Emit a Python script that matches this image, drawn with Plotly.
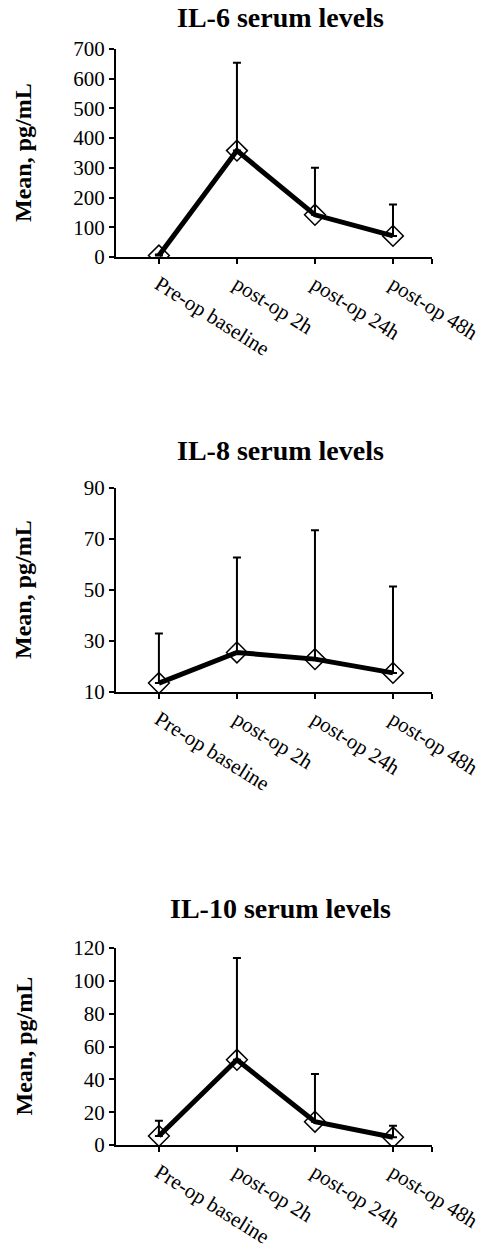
import plotly.graph_objects as go

# sampling times on the x axis
timepoints = ["Pre-op baseline", "post-op 2h", "post-op 24h", "post-op 48h"]

# mean and SD (upper bar only), pg/mL
il6_mean = [5, 358, 142, 71]
il6_sd = [3, 296, 158, 106]
il8_mean = [13.5, 25.5, 22.9, 17.5]
il8_sd = [19.4, 37.2, 50.5, 33.9]
il10_mean = [5.5, 51.9, 14.2, 4.7]
il10_sd = [9.3, 62.0, 29.1, 7.1]

il6_ticks = [0, 100, 200, 300, 400, 500, 600, 700]
il8_ticks = [10, 30, 50, 70, 90]
il10_ticks = [0, 20, 40, 60, 80, 100, 120]

# page body has an 8px margin, so the figure is shrunk by that much
OFF = 8
W, H = 484 - OFF, 1248 - OFF
FONT = "Liberation Serif"


def px_x(px):
    return (px - OFF) / W


def px_y(px):
    return 1 - (px - OFF) / H


# (title, mean, sd, ticks, plot top px, plot bottom px, title centre px)
panels = [
    ("IL-6 serum levels", il6_mean, il6_sd, il6_ticks, 49, 257, 18),
    ("IL-8 serum levels", il8_mean, il8_sd, il8_ticks, 488, 692, 451),
    ("IL-10 serum levels", il10_mean, il10_sd, il10_ticks, 948, 1145, 908),
]
x_left, x_right = 116, 432

fig = go.Figure()
xs = list(range(len(timepoints)))

for i, (title, mean, sd, ticks, top, bottom, title_y) in enumerate(panels):
    n = '' if i == 0 else str(i + 1)
    fig.add_trace(go.Scatter(
        x=xs, y=mean,
        mode='lines+markers',
        line=dict(color='black', width=5),
        marker=dict(symbol='diamond-open', size=16, color='black', line=dict(width=1.5)),
        error_y=dict(type='data', symmetric=False, array=sd, arrayminus=[0] * len(sd),
                     color='black', thickness=2, width=4),
        xaxis=f"x{n}", yaxis=f"y{n}",
        showlegend=False,
    ))

    fig.update_layout(**{
        f"xaxis{n}": dict(
            domain=[px_x(x_left), px_x(x_right)],
            anchor=f"y{n}",
            automargin=False,
            range=[-0.55, 3.5],
            tickvals=xs + [3.5],
            ticktext=timepoints + [""],
            tickangle=32,
            ticks='outside', ticklen=5, tickwidth=1.5, tickcolor='black',
            showline=True, linecolor='black', linewidth=2,
            showgrid=False, zeroline=False,
            tickfont=dict(family=FONT, size=21, color='black'),
        ),
        f"yaxis{n}": dict(
            domain=[px_y(bottom), px_y(top)],
            anchor=f"x{n}",
            automargin=False,
            range=[ticks[0], ticks[-1]],
            tickvals=ticks,
            ticks='outside', ticklen=5, tickwidth=1.5, tickcolor='black',
            showline=True, linecolor='black', linewidth=2,
            showgrid=False, zeroline=False,
            tickfont=dict(family=FONT, size=21, color='black'),
        ),
    })

    fig.add_annotation(
        text=f"<b>{title}</b>", showarrow=False,
        xref='paper', yref='paper', x=px_x(280), y=px_y(title_y),
        xanchor='center', yanchor='middle',
        font=dict(family=FONT, size=28, color='black'),
    )
    fig.add_annotation(
        text="<b>Mean, pg/mL</b>", showarrow=False, textangle=-90,
        xref='paper', yref='paper', x=px_x(23), y=px_y((top + bottom) / 2),
        xanchor='center', yanchor='middle',
        font=dict(family=FONT, size=24, color='black'),
    )

fig.update_layout(
    width=W, height=H,
    margin=dict(l=0, r=0, t=0, b=0),
    paper_bgcolor='white', plot_bgcolor='white',
)

fig.write_html("out.html")
